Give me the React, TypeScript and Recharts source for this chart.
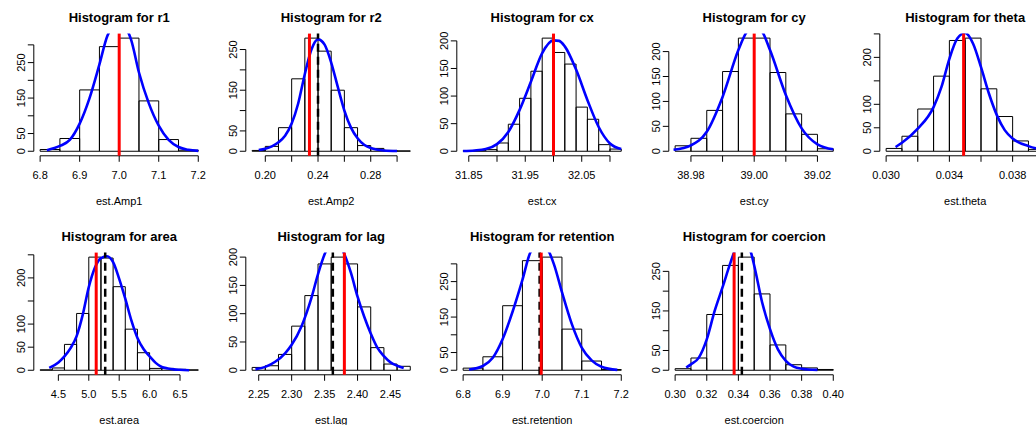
import { ComposedChart, Line, ReferenceArea, ReferenceLine, XAxis, YAxis } from "recharts";

// ---- r1 ----
const r1Breaks = [6.8, 6.85, 6.9, 6.95, 7.0, 7.05, 7.1, 7.15, 7.2];
const r1Counts = [5, 36, 173, 295, 319, 142, 33, 3];
const r1DensX = [6.817, 6.85, 6.875, 6.9, 6.925, 6.95, 6.97, 6.985, 7.0, 7.015, 7.03, 7.05, 7.075, 7.1, 7.125, 7.15, 7.175, 7.2];
const r1DensY = [3, 15, 32, 78, 150, 245, 325, 352, 360, 350, 315, 222, 135, 72, 32, 12, 4, 1];
const r1XTicks = [6.8, 6.9, 7.0, 7.1, 7.2];
const r1XLabels = [6.8, 6.9, 7.0, 7.1, 7.2];
const r1YTicks = [0, 50, 100, 150, 200, 250, 300];
const r1YLabels = [0, 50, 150, 250];

// ---- r2 ----
const r2Breaks = [0.19, 0.2, 0.21, 0.22, 0.23, 0.24, 0.25, 0.26, 0.27, 0.28, 0.29, 0.3, 0.31];
const r2Counts = [2, 12, 58, 178, 278, 246, 150, 58, 14, 7, 2, 1];
const r2DensX = [0.195, 0.2, 0.205, 0.21, 0.215, 0.22, 0.225, 0.23, 0.235, 0.24, 0.245, 0.25, 0.255, 0.26, 0.265, 0.27, 0.275, 0.28, 0.29, 0.3];
const r2DensY = [3, 6, 12, 22, 38, 68, 118, 190, 250, 275, 262, 218, 158, 100, 58, 32, 16, 8, 2, 0.5];
const r2XTicks = [0.2, 0.22, 0.24, 0.26, 0.28, 0.3];
const r2XLabels = [0.2, 0.24, 0.28];
const r2YTicks = [0, 50, 100, 150, 200, 250];
const r2YLabels = [0, 50, 150, 250];

// ---- cx ----
const cxBreaks = [31.84, 31.86, 31.88, 31.9, 31.92, 31.94, 31.96, 31.98, 32.0, 32.02, 32.04, 32.06, 32.08, 32.1, 32.12];
const cxCounts = [1, 1, 3, 15, 49, 96, 145, 205, 179, 158, 80, 58, 12, 4];
const cxDensX = [31.84, 31.86, 31.88, 31.9, 31.92, 31.94, 31.96, 31.98, 32.0, 32.01, 32.02, 32.04, 32.06, 32.08, 32.1, 32.12];
const cxDensY = [0.5, 1.5, 4, 13, 35, 75, 126, 178, 201, 200, 190, 148, 93, 44, 14, 4];
const cxXTicks = [31.85, 31.9, 31.95, 32.0, 32.05, 32.1];
const cxXLabels = [31.85, 31.95, 32.05];
const cxYTicks = [0, 50, 100, 150, 200];
const cxYLabels = [0, 50, 100, 150, 200];

// ---- cy ----
const cyBreaks = [38.975, 38.98, 38.985, 38.99, 38.995, 39.0, 39.005, 39.01, 39.015, 39.02, 39.025];
const cyCounts = [11, 26, 82, 160, 227, 227, 158, 75, 34, 5];
const cyDensX = [38.9745, 38.98, 38.985, 38.99, 38.995, 38.9975, 39.0, 39.0025, 39.005, 39.01, 39.015, 39.02, 39.025];
const cyDensY = [3, 12, 39, 109, 203, 238, 250, 240, 203, 113, 46, 14, 4];
const cyXTicks = [38.98, 38.99, 39.0, 39.01, 39.02];
const cyXLabels = [38.98, 39.0, 39.02];
const cyYTicks = [0, 50, 100, 150, 200];
const cyYLabels = [0, 50, 100, 150, 200];

// ---- theta ----
const thBreaks = [0.03, 0.031, 0.032, 0.033, 0.034, 0.035, 0.036, 0.037, 0.038, 0.039, 0.04];
const thCounts = [6, 32, 90, 160, 236, 241, 133, 74, 22, 4];
const thDensX = [0.0306, 0.031, 0.032, 0.033, 0.0335, 0.034, 0.0345, 0.035, 0.0355, 0.036, 0.0365, 0.037, 0.0375, 0.038, 0.039, 0.0395, 0.04];
const thDensY = [9, 18, 48, 94, 137, 197, 240, 252, 229, 179, 123, 77, 45, 27, 11, 6, 3];
const thXTicks = [0.03, 0.032, 0.034, 0.036, 0.038, 0.04];
const thXLabels = [0.03, 0.034, 0.038];
const thYTicks = [0, 50, 100, 150, 200, 250];
const thYLabels = [0, 50, 100, 200];

// ---- area ----
const arBreaks = [4.2, 4.4, 4.6, 4.8, 5.0, 5.2, 5.4, 5.6, 5.8, 6.0, 6.2, 6.4, 6.6, 6.8];
const arCounts = [1, 5, 56, 123, 245, 243, 181, 89, 38, 4, 4, 2, 1];
const arDensX = [4.35, 4.5, 4.6, 4.7, 4.8, 4.9, 5.0, 5.1, 5.2, 5.3, 5.4, 5.5, 5.6, 5.7, 5.8, 5.9, 6.0, 6.1, 6.2, 6.3, 6.4, 6.5, 6.65];
const arDensY = [5, 17, 30, 48, 74, 120, 180, 222, 243, 247, 234, 198, 155, 108, 70, 46, 30, 16, 7, 4, 2, 1, 0];
const arXTicks = [4.5, 5.0, 5.5, 6.0, 6.5];
const arXLabels = [4.5, 5.0, 5.5, 6.0, 6.5];
const arYTicks = [0, 50, 100, 150, 200, 250];
const arYLabels = [0, 50, 100, 200];

// ---- lag ----
const lagBreaks = [2.24, 2.26, 2.28, 2.3, 2.32, 2.34, 2.36, 2.38, 2.4, 2.42, 2.44, 2.46, 2.48];
const lagCounts = [5, 8, 28, 78, 132, 188, 200, 188, 112, 40, 11, 7];
const lagDensX = [2.245, 2.26, 2.275, 2.29, 2.3, 2.315, 2.33, 2.34, 2.35, 2.36, 2.365, 2.37, 2.38, 2.39, 2.4, 2.41, 2.42, 2.43, 2.44, 2.45, 2.46, 2.47];
const lagDensY = [2, 6, 15, 30, 45, 78, 128, 170, 205, 226, 229, 226, 205, 172, 130, 95, 65, 40, 25, 14, 8, 4];
const lagXTicks = [2.25, 2.3, 2.35, 2.4, 2.45];
const lagXLabels = [2.25, 2.3, 2.35, 2.4, 2.45];
const lagYTicks = [0, 50, 100, 150, 200];
const lagYLabels = [0, 50, 100, 150, 200];

// ---- retention ----
const retBreaks = [6.8, 6.85, 6.9, 6.95, 7.0, 7.05, 7.1, 7.15, 7.2];
const retCounts = [6, 38, 182, 309, 319, 116, 26, 2];
const retDensX = [6.815, 6.85, 6.875, 6.9, 6.925, 6.95, 6.97, 6.98, 6.993, 7.005, 7.018, 7.03, 7.05, 7.075, 7.1, 7.125, 7.15, 7.19];
const retDensY = [2, 12, 35, 88, 165, 255, 332, 347, 356, 350, 332, 298, 220, 130, 64, 28, 10, 1];
const retXTicks = [6.8, 6.9, 7.0, 7.1, 7.2];
const retXLabels = [6.8, 6.9, 7.0, 7.1, 7.2];
const retYTicks = [0, 50, 100, 150, 200, 250, 300];
const retYLabels = [0, 50, 150, 250];

// ---- coercion ----
const coBreaks = [0.3, 0.31, 0.32, 0.33, 0.34, 0.35, 0.36, 0.37, 0.38, 0.39, 0.4];
const coCounts = [4, 31, 141, 265, 286, 193, 64, 14, 6, 2];
const coDensX = [0.307, 0.31, 0.315, 0.32, 0.325, 0.33, 0.335, 0.3375, 0.34, 0.3425, 0.345, 0.348, 0.35, 0.355, 0.36, 0.365, 0.37, 0.375, 0.38, 0.39];
const coDensY = [7, 15, 32, 78, 150, 210, 272, 300, 318, 323, 315, 297, 265, 172, 104, 53, 24, 9, 4, 1];
const coXTicks = [0.3, 0.32, 0.34, 0.36, 0.38, 0.4];
const coXLabels = [0.3, 0.32, 0.34, 0.36, 0.38, 0.4];
const coYTicks = [0, 50, 100, 150, 200, 250];
const coYLabels = [0, 50, 150, 250];

const FONT = '"Liberation Sans", Arial, Helvetica, sans-serif';
const W = 211.6;
const H = 218.7;
const PL = 33.8;
const PT = 33.6;
const PW = 170.8;
const PH = 122.2;
const XAH = 40;

type Panel = {
  title: string;
  xlab: string;
  breaks: number[];
  counts: number[];
  dx: number[];
  dy: number[];
  xTicks: number[];
  xLabels: number[];
  dec: number;
  yTicks: number[];
  yLabels: number[];
  truth: number;
  mean?: number;
};

const panels: Panel[] = [
  { title: "Histogram for r1", xlab: "est.Amp1", breaks: r1Breaks, counts: r1Counts, dx: r1DensX, dy: r1DensY, xTicks: r1XTicks, xLabels: r1XLabels, dec: 1, yTicks: r1YTicks, yLabels: r1YLabels, truth: 7.0 },
  { title: "Histogram for r2", xlab: "est.Amp2", breaks: r2Breaks, counts: r2Counts, dx: r2DensX, dy: r2DensY, xTicks: r2XTicks, xLabels: r2XLabels, dec: 2, yTicks: r2YTicks, yLabels: r2YLabels, truth: 0.2335, mean: 0.24 },
  { title: "Histogram for cx", xlab: "est.cx", breaks: cxBreaks, counts: cxCounts, dx: cxDensX, dy: cxDensY, xTicks: cxXTicks, xLabels: cxXLabels, dec: 2, yTicks: cxYTicks, yLabels: cxYLabels, truth: 32.0 },
  { title: "Histogram for cy", xlab: "est.cy", breaks: cyBreaks, counts: cyCounts, dx: cyDensX, dy: cyDensY, xTicks: cyXTicks, xLabels: cyXLabels, dec: 2, yTicks: cyYTicks, yLabels: cyYLabels, truth: 39.0 },
  { title: "Histogram for theta", xlab: "est.theta", breaks: thBreaks, counts: thCounts, dx: thDensX, dy: thDensY, xTicks: thXTicks, xLabels: thXLabels, dec: 3, yTicks: thYTicks, yLabels: thYLabels, truth: 0.0349 },
  { title: "Histogram for area", xlab: "est.area", breaks: arBreaks, counts: arCounts, dx: arDensX, dy: arDensY, xTicks: arXTicks, xLabels: arXLabels, dec: 1, yTicks: arYTicks, yLabels: arYLabels, truth: 5.122, mean: 5.27 },
  { title: "Histogram for lag", xlab: "est.lag", breaks: lagBreaks, counts: lagCounts, dx: lagDensX, dy: lagDensY, xTicks: lagXTicks, xLabels: lagXLabels, dec: 2, yTicks: lagYTicks, yLabels: lagYLabels, truth: 2.38, mean: 2.3625 },
  { title: "Histogram for retention", xlab: "est.retention", breaks: retBreaks, counts: retCounts, dx: retDensX, dy: retDensY, xTicks: retXTicks, xLabels: retXLabels, dec: 1, yTicks: retYTicks, yLabels: retYLabels, truth: 6.9975, mean: 6.9935 },
  { title: "Histogram for coercion", xlab: "est.coercion", breaks: coBreaks, counts: coCounts, dx: coDensX, dy: coDensY, xTicks: coXTicks, xLabels: coXLabels, dec: 2, yTicks: coYTicks, yLabels: coYLabels, truth: 0.3373, mean: 0.3422 },
];

const has = (list: number[], v: number) => list.some((l) => Math.abs(l - v) < 1e-9);

function Hist({ p }: { p: Panel }) {
  const lo = p.breaks[0];
  const hi = p.breaks[p.breaks.length - 1];
  const xr = hi - lo;
  const xDom = [lo - 0.04 * xr, hi + 0.04 * xr];
  const ymax = Math.max(...p.counts);
  const yDom = [-0.04 * ymax, 1.04 * ymax];
  const dens = p.dx.map((x, i) => ({ x, y: p.dy[i] }));

  const xTick = (props: any) => {
    const { x, y, payload } = props;
    if (!has(p.xLabels, payload.value)) return <g />;
    return (
      <text x={x} y={y + 17.5} textAnchor="middle" fontSize={11} fontFamily={FONT} fill="#000">
        {payload.value.toFixed(p.dec)}
      </text>
    );
  };
  const yTick = (props: any) => {
    const { x, y, payload } = props;
    if (!has(p.yLabels, payload.value)) return <g />;
    return (
      <text transform={`translate(${x - 3},${y}) rotate(-90)`} textAnchor="middle" fontSize={11} fontFamily={FONT} fill="#000">
        {payload.value}
      </text>
    );
  };

  return (
    <div style={{ position: "relative", width: W, height: H }}>
      <ComposedChart
        width={W}
        height={H}
        data={dens}
        margin={{ top: PT, left: 0, right: W - PL - PW, bottom: H - PT - PH - XAH }}
      >
        <XAxis
          type="number"
          dataKey="x"
          domain={xDom}
          allowDataOverflow
          ticks={p.xTicks}
          interval={0}
          axisLine={false}
          stroke="#000"
          tickSize={6}
          tickMargin={0}
          height={XAH}
          tick={xTick}
        />
        <YAxis
          type="number"
          domain={yDom}
          allowDataOverflow
          ticks={p.yTicks}
          interval={0}
          axisLine={false}
          stroke="#000"
          tickSize={6}
          tickMargin={0}
          width={PL}
          tick={yTick}
        />
        {p.counts.map((c, i) => (
          <ReferenceArea
            key={i}
            x1={p.breaks[i]}
            x2={p.breaks[i + 1]}
            y1={0}
            y2={c}
            fill="none"
            stroke="#000"
            strokeWidth={1}
            ifOverflow="visible"
          />
        ))}
        <ReferenceLine
          segment={[{ x: xDom[0], y: p.yTicks[0] }, { x: xDom[0], y: p.yTicks[p.yTicks.length - 1] }]}
          stroke="#000"
          strokeWidth={1}
          ifOverflow="visible"
        />
        <ReferenceLine
          segment={[{ x: p.xTicks[0], y: yDom[0] }, { x: p.xTicks[p.xTicks.length - 1], y: yDom[0] }]}
          stroke="#000"
          strokeWidth={1}
          ifOverflow="visible"
        />
        <Line type="monotone" dataKey="y" stroke="#0000ff" strokeWidth={2.6} dot={false} isAnimationActive={false} />
        {p.mean !== undefined && (
          <ReferenceLine x={p.mean} stroke="#000" strokeWidth={2.5} strokeDasharray="8 5" />
        )}
        <ReferenceLine x={p.truth} stroke="#ff0000" strokeWidth={3} />
      </ComposedChart>
      <svg width={W} height={H} style={{ position: "absolute", left: 0, top: 0, pointerEvents: "none" }}>
        <text x={PL + PW / 2} y={PT - 11.6} textAnchor="middle" fontSize={13} fontWeight="bold" fontFamily={FONT} fill="#000">
          {p.title}
        </text>
        <text x={PL + PW / 2} y={PT + PH + 49} textAnchor="middle" fontSize={11} fontFamily={FONT} fill="#000">
          {p.xlab}
        </text>
      </svg>
    </div>
  );
}

export default function App() {
  return (
    <div style={{ position: "absolute", left: 0, top: 0, width: 1036, height: 425, overflow: "hidden", background: "#fff" }}>
      {panels.map((p, i) => (
        <div key={p.title} style={{ position: "absolute", left: (i % 5) * W, top: Math.floor(i / 5) * H }}>
          <Hist p={p} />
        </div>
      ))}
    </div>
  );
}
